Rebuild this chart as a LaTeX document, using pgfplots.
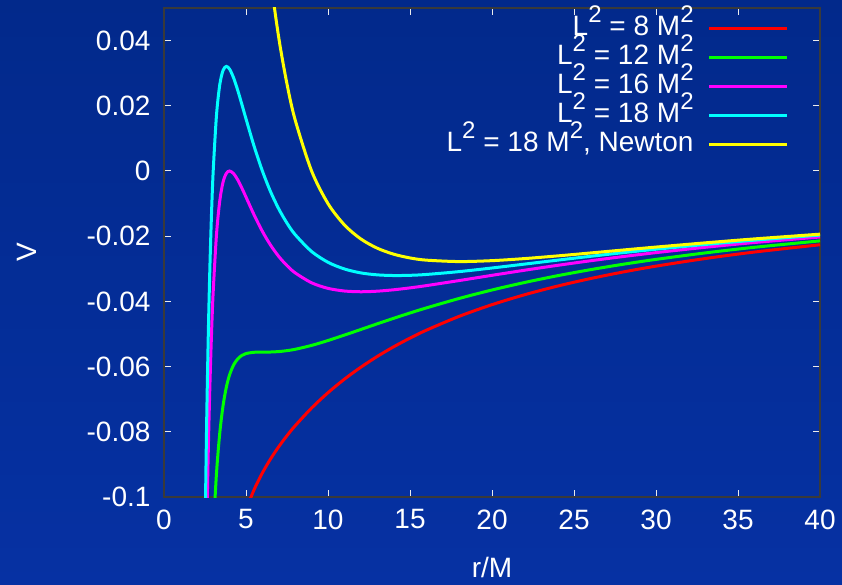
\documentclass[border=0pt]{standalone}
\usepackage{fontspec}
\setmainfont{Liberation Sans}
\usepackage{pgfplots}
\pgfplotsset{compat=1.18}
\definecolor{bgtop}{HTML}{02298B}
\definecolor{bgbot}{HTML}{0631A3}
\definecolor{axline}{HTML}{3A3A3A}
\definecolor{cR}{HTML}{FF0000}
\definecolor{cG}{HTML}{00FF00}
\definecolor{cM}{HTML}{FF00FF}
\definecolor{cC}{HTML}{00FFFF}
\definecolor{cY}{HTML}{FFFF00}
\newcommand{\sq}{\raisebox{0.45em}{\fontsize{24}{24}\selectfont 2}}
\begin{document}
\begin{tikzpicture}
\useasboundingbox (0,0) rectangle (842pt,584pt);
\shade[top color=bgtop, bottom color=bgbot] (0,0) rectangle (842pt,584pt);
\begin{axis}[
  at={(164pt,87pt)}, anchor=south west,
  scale only axis, width=656pt, height=489pt,
  xmin=0, xmax=40, ymin=-0.1, ymax=0.05,
  xtick={0,5,10,15,20,25,30,35,40},
  xticklabels={0,5,10,15,20,25,30,35,40},
  ytick={-0.1,-0.08,-0.06,-0.04,-0.02,0,0.02,0.04},
  yticklabels={-0.1,-0.08,-0.06,-0.04,-0.02,0,0.02,0.04},
  /pgf/number format/assume math mode=true,
  tick align=inside, major tick length=7pt,
  every tick/.style={white!85!gray, line width=1pt},
  axis line style={axline, line width=1.5pt},
  tick label style={font=\fontsize{28}{28}\selectfont, text=white},
  xticklabel style={yshift=-9pt},
  yticklabel style={xshift=-10pt},
  xlabel={r/M}, ylabel={V},
  label style={font=\fontsize{28}{28}\selectfont, text=white},
  xlabel style={at={(axis description cs:0.5,-0.145)}, anchor=center},
  ylabel style={at={(axis description cs:-0.209,0.501)}, anchor=center, rotate=0},
  legend plot pos=right,
  legend cell align=right,
  legend image code/.code={\draw[#1] (0pt,0pt) -- (78pt,0pt);},
  legend style={at={(0.957,0.992)}, anchor=north east, draw=none, fill=none,
    font=\fontsize{28}{28}\selectfont, text=white, row sep=0pt,
    nodes={inner ysep=0pt, inner xsep=4pt, text height=21pt, text depth=8pt},
    /tikz/every odd column/.style={column sep=10pt}},
  clip=true,
]
\addplot[cR, line width=3pt, smooth] coordinates {
(4.5,-0.112482) (4.75,-0.10789) (5,-0.104) (5.5,-0.097674) (6,-0.092595) (6.5,-0.088298)
(7,-0.084545) (7.5,-0.081181) (8,-0.078124) (9,-0.072703) (10,-0.068) (11,-0.063861)
(12,-0.060189) (13,-0.056895) (14,-0.053933) (15,-0.051259) (16,-0.048828) (18,-0.04458)
(20,-0.041) (22,-0.037942) (24,-0.035301) (26,-0.033001) (28,-0.030975) (30,-0.029185)
(33,-0.026853) (36,-0.024861) (40,-0.022625)};
\addlegendentry{L\sq{} = 8 M\sq}
\addplot[cG, line width=3pt, smooth] coordinates {
(2.8,-0.138485) (2.9,-0.123416) (3,-0.111111) (3.2,-0.09278) (3.4,-0.080404) (3.6,-0.072014)
(3.8,-0.066334) (4,-0.0625) (4.25,-0.05944) (4.5,-0.057612) (4.75,-0.056572) (5,-0.056)
(5.5,-0.055602) (6,-0.055556) (6.5,-0.055524) (7,-0.055389) (7.5,-0.055105) (8,-0.054688)
(9,-0.053499) (10,-0.052) (11,-0.050337) (12,-0.048617) (13,-0.046881) (14,-0.045185)
(15,-0.043555) (16,-0.041992) (18,-0.039092) (20,-0.0365) (22,-0.034186) (24,-0.032119)
(26,-0.030271) (28,-0.028605) (30,-0.027111) (33,-0.025129) (36,-0.023403) (40,-0.021437)};
\addlegendentry{L\sq{} = 12 M\sq}
\addplot[cM, line width=3pt, smooth] coordinates {
(2.5,-0.144) (2.6,-0.111519) (2.7,-0.085858) (2.8,-0.065599) (2.9,-0.049612) (3,-0.037037)
(3.2,-0.01954) (3.4,-0.009166) (3.6,-0.003426) (3.8,-0.000726) (4,0) (4.25,-0.000822)
(4.5,-0.002742) (4.75,-0.005254) (5,-0.008) (5.5,-0.01353) (6,-0.018523) (6.5,-0.02275)
(7,-0.026233) (7.5,-0.029029) (8,-0.03125) (9,-0.034295) (10,-0.036) (11,-0.036813)
(12,-0.037045) (13,-0.036867) (14,-0.036437) (15,-0.035851) (16,-0.035156) (18,-0.033604)
(20,-0.032) (22,-0.030429) (24,-0.028936) (26,-0.02754) (28,-0.026236) (30,-0.025037)
(33,-0.023404) (36,-0.021944) (40,-0.02025)};
\addlegendentry{L\sq{} = 16 M\sq}
\addplot[cC, line width=3pt, smooth] coordinates {
(2.5,-0.112) (2.6,-0.077382) (2.7,-0.050294) (2.8,-0.029156) (2.9,-0.01271) (3,0)
(3.2,0.017082) (3.4,0.026453) (3.6,0.030868) (3.8,0.032078) (4,0.03125) (4.25,0.028487)
(4.5,0.024693) (4.75,0.020405) (5,0.016) (5.5,0.007506) (6,0) (6.5,-0.006363)
(7,-0.011655) (7.5,-0.015991) (8,-0.019529) (9,-0.024693) (10,-0.028) (11,-0.030051)
(12,-0.031259) (13,-0.03186) (14,-0.032063) (15,-0.031999) (16,-0.031738) (18,-0.03086)
(20,-0.02975) (22,-0.028551) (24,-0.027344) (26,-0.026175) (28,-0.025051) (30,-0.024)
(33,-0.022541) (36,-0.021215) (40,-0.019656)};
\addlegendentry{L\sq{} = 18 M\sq}
\addplot[cY, line width=3pt, smooth] coordinates {
(6,0.083333) (6.5,0.059175) (7,0.040815) (7.5,0.026669) (8,0.015625) (9,0) (10,-0.01)
(11,-0.016533) (12,-0.020837) (13,-0.02367) (14,-0.025511) (15,-0.026671) (16,-0.027346)
(18,-0.027782) (20,-0.0275) (22,-0.026861) (24,-0.026043) (26,-0.025151) (28,-0.02423)
(30,-0.023334) (33,-0.022041) (36,-0.02083) (40,-0.019375)};
\addlegendentry{L\sq{} = 18 M\sq, Newton}
\end{axis}
\end{tikzpicture}
\end{document}
